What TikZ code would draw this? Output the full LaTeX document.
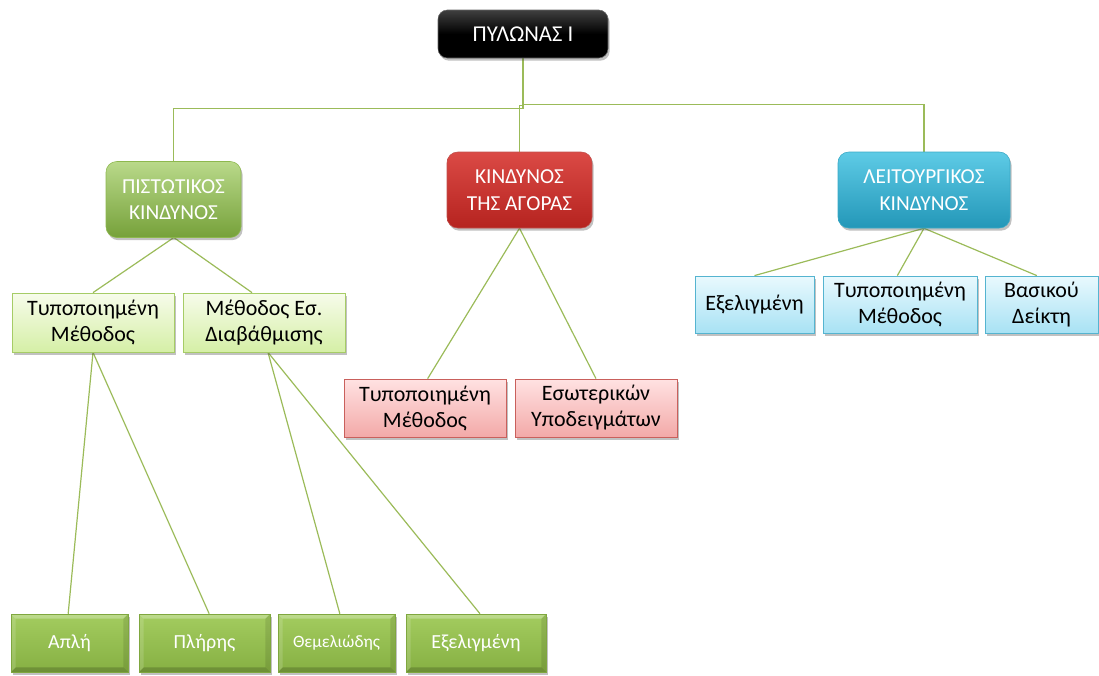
\documentclass[tikz,border=0pt]{standalone}
\usepackage{fontspec}
\setmainfont{Carlito}
\usetikzlibrary{shadows,backgrounds}
\definecolor{conn}{HTML}{9BBB59}
\definecolor{gAtop}{HTML}{B9D98A}
\definecolor{gAbot}{HTML}{76A13A}
\definecolor{gAdraw}{HTML}{8DB84E}
\definecolor{rAtop}{HTML}{DB4A45}
\definecolor{rAbot}{HTML}{B5231F}
\definecolor{rAdraw}{HTML}{C0504D}
\definecolor{bAtop}{HTML}{5ECBE6}
\definecolor{bAbot}{HTML}{2397B8}
\definecolor{bAdraw}{HTML}{3AA9C6}
\definecolor{gBtop}{HTML}{F7FCEB}
\definecolor{gBbot}{HTML}{D5EFA6}
\definecolor{gBdraw}{HTML}{A6CC66}
\definecolor{rBtop}{HTML}{FFE2E2}
\definecolor{rBbot}{HTML}{F3A9A8}
\definecolor{rBdraw}{HTML}{C9605C}
\definecolor{bBtop}{HTML}{E9F9FE}
\definecolor{bBbot}{HTML}{A8E2F4}
\definecolor{bBdraw}{HTML}{55B4D0}
\definecolor{dtop}{HTML}{A3CC5F}
\definecolor{dbot}{HTML}{86B043}
\definecolor{ddraw}{HTML}{7FA73F}
\tikzset{
  x=0.75pt, y=-0.75pt,
  connector/.style={draw=conn, line width=0.9pt},
  shad/.style={drop shadow={shadow xshift=1.2pt, shadow yshift=-2pt, opacity=0.35, fill=black!70}},
  topbox/.style={rounded corners=7pt, shad, top color=black!75, bottom color=black, middle color=black, draw=black!60, text=white, font=\fontsize{17}{20}\selectfont, minimum width=127.5pt, minimum height=36pt, inner sep=0pt},
  lvlone/.style={rounded corners=8pt, shad, text=white, align=center, font=\fontsize{16}{20}\selectfont, inner sep=0pt, minimum height=57pt},
  greenone/.style={lvlone, top color=gAtop, bottom color=gAbot, draw=gAdraw},
  redone/.style={lvlone, top color=rAtop, bottom color=rAbot, draw=rAdraw},
  blueone/.style={lvlone, top color=bAtop, bottom color=bAbot, draw=bAdraw},
  lvltwo/.style={shad, align=center, font=\fontsize{16.5}{19.5}\selectfont, inner sep=0pt, minimum height=44.25pt, line width=0.6pt},
  greentwo/.style={lvltwo, top color=gBtop, bottom color=gBbot, draw=gBdraw},
  redtwo/.style={lvltwo, top color=rBtop, bottom color=rBbot, draw=rBdraw},
  bluetwo/.style={lvltwo, top color=bBtop, bottom color=bBbot, draw=bBdraw},
  bevel/.style={shad, text=white, font=\fontsize{15}{18}\selectfont, inner sep=0pt, minimum height=43.5pt,
    top color=dtop, bottom color=dbot, draw=ddraw, line width=0.4pt,
    path picture={
      \fill[white,opacity=0.28] (path picture bounding box.north west) -- (path picture bounding box.north east) -- ([xshift=-3.5pt,yshift=-3.5pt]path picture bounding box.north east) -- ([xshift=3.5pt,yshift=-3.5pt]path picture bounding box.north west) -- cycle;
      \fill[white,opacity=0.15] (path picture bounding box.north west) -- (path picture bounding box.south west) -- ([xshift=3.5pt,yshift=3.5pt]path picture bounding box.south west) -- ([xshift=3.5pt,yshift=-3.5pt]path picture bounding box.north west) -- cycle;
      \fill[black,opacity=0.18] (path picture bounding box.south west) -- (path picture bounding box.south east) -- ([xshift=-3.5pt,yshift=3.5pt]path picture bounding box.south east) -- ([xshift=3.5pt,yshift=3.5pt]path picture bounding box.south west) -- cycle;
      \fill[black,opacity=0.1] (path picture bounding box.north east) -- (path picture bounding box.south east) -- ([xshift=-3.5pt,yshift=3.5pt]path picture bounding box.south east) -- ([xshift=-3.5pt,yshift=-3.5pt]path picture bounding box.north east) -- cycle;
    }},
}
\begin{document}
\begin{tikzpicture}
\useasboundingbox (0,0) rectangle (1099,675);

\node[topbox] (top) at (523,34) {ΠΥΛΩΝΑΣ Ι};
\node[greenone, minimum width=101.25pt] (pk) at (173.5,199.5) {ΠΙΣΤΩΤΙΚΟΣ\\ΚΙΝΔΥΝΟΣ};
\node[redone, minimum width=108.75pt] (ka) at (519.5,190) {ΚΙΝΔΥΝΟΣ\\ΤΗΣ ΑΓΟΡΑΣ};
\node[blueone, minimum width=129pt] (lk) at (924,190) {ΛΕΙΤΟΥΡΓΙΚΟΣ\\ΚΙΝΔΥΝΟΣ};

\node[greentwo, minimum width=121.5pt] (g1) at (93,322.5) {Τυποποιημένη\\Μέθοδος};
\node[greentwo, minimum width=121.5pt] (g2) at (264,322.5) {Μέθοδος Εσ.\\Διαβάθμισης};
\node[redtwo, minimum width=121.5pt, minimum height=43.5pt] (r1) at (425,408) {Τυποποιημένη\\Μέθοδος};
\node[redtwo, minimum width=121.5pt, minimum height=43.5pt] (r2) at (596,408) {Εσωτερικών\\Υποδειγμάτων};
\node[bluetwo, minimum width=89.25pt, minimum height=42.75pt] (b1) at (754.5,304.5) {Εξελιγμένη};
\node[bluetwo, minimum width=115.5pt, minimum height=42.75pt] (b2) at (900,304.5) {Τυποποιημένη\\Μέθοδος};
\node[bluetwo, minimum width=84.75pt, minimum height=42.75pt] (b3) at (1041.5,304.5) {Βασικού\\Δείκτη};

\node[bevel, minimum width=87.75pt] (d1) at (69.5,643) {Απλή};
\node[bevel, minimum width=98.25pt] (d2) at (204.5,643) {Πλήρης};
\node[bevel, minimum width=87.75pt, font=\fontsize{13}{15}\selectfont] (d3) at (336.5,643) {Θεμελιώδης};
\node[bevel, minimum width=105pt] (d4) at (476,643) {Εξελιγμένη};

\begin{scope}[on background layer]
% elbow connectors from the top node
\draw[connector] (top.south) -- ++(0,50) -| (pk.north);
\draw[connector] (top.south) -- ++(0,47) -| (ka.north);
\draw[connector] (top.south) -- ++(0,46) -| (lk.north);

% diagonal connectors
\draw[connector] (pk.south) -- (g1.north);
\draw[connector] ([xshift=0.5pt]pk.south) -- ([xshift=-9pt]g2.north);
\draw[connector] (ka.south) -- ([xshift=2pt]r1.north);
\draw[connector] (ka.south) -- (r2.north);
\draw[connector] (lk.south) -- (b1.north);
\draw[connector] (lk.south) -- ([xshift=-2pt]b2.north);
\draw[connector] (lk.south) -- ([xshift=-3.5pt]b3.north);
\draw[connector] (g1.south) -- ([xshift=-1pt]d1.north);
\draw[connector] (g1.south) -- ([xshift=3.5pt]d2.north);
\draw[connector] ([xshift=3pt]g2.south) -- ([xshift=2.5pt]d3.north);
\draw[connector] ([xshift=3pt]g2.south) -- ([xshift=3pt]d4.north);
\end{scope}
\end{tikzpicture}
\end{document}
